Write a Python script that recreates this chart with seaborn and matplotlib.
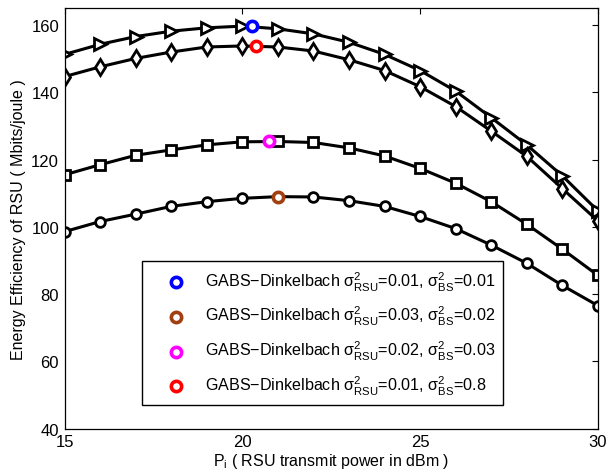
import matplotlib
matplotlib.use("Agg")
import matplotlib.pyplot as plt
import seaborn as sns

# power levels (dBm)
p_dbm = list(range(15, 31))

# energy efficiency curves (Mbits/joule)
ee_tri = [151.3, 154.3, 156.6, 158.2, 159.2, 159.7, 158.9, 157.4, 154.9, 151.3,
          146.5, 140.4, 132.5, 124.4, 115.2, 104.8]
ee_dia = [144.7, 147.6, 150.1, 152.0, 153.5, 153.8, 153.5, 152.3, 149.7, 146.5,
          141.7, 135.8, 128.5, 121.0, 111.4, 101.8]
ee_sq = [115.5, 118.5, 121.3, 122.9, 124.4, 125.3, 125.4, 125.1, 123.5, 121.1,
         117.4, 113.0, 107.5, 100.8, 93.4, 85.6]
ee_circ = [98.6, 101.6, 103.8, 106.1, 107.5, 108.5, 109.0, 108.9, 107.8, 106.1,
           103.1, 99.5, 94.6, 89.2, 82.6, 76.6]

# GABS-Dinkelbach optimum points
opt_x = [20.27, 21.0, 20.76, 20.38]
opt_y = [159.7, 109.0, 125.4, 153.8]
opt_labels = [
    r"GABS$-$Dinkelbach $\sigma^2_{RSU}$=0.01, $\sigma^2_{BS}$=0.01",
    r"GABS$-$Dinkelbach $\sigma^2_{RSU}$=0.03, $\sigma^2_{BS}$=0.02",
    r"GABS$-$Dinkelbach $\sigma^2_{RSU}$=0.02, $\sigma^2_{BS}$=0.03",
    r"GABS$-$Dinkelbach $\sigma^2_{RSU}$=0.01, $\sigma^2_{BS}$=0.8",
]
opt_colors = ["#0000FF", "#A04010", "#FF00FF", "#FF0000"]

sns.set_style("white")
plt.rcParams["font.family"] = ["Liberation Sans", "DejaVu Sans"]
plt.rcParams["mathtext.default"] = "regular"
plt.rcParams["text.color"] = "black"
plt.rcParams["axes.labelcolor"] = "black"

fig = plt.figure(figsize=(6.1, 4.77), dpi=100)
ax = fig.add_axes([0.106, 0.0992, 0.874, 0.8813])

curves = [(ee_tri, ">", 9), (ee_dia, "d", 8), (ee_sq, "s", 6.5), (ee_circ, "o", 7)]
for vals, mk, ms in curves:
    sns.lineplot(x=p_dbm, y=vals, ax=ax, color="black", linewidth=2.2,
                 marker=mk, markersize=ms, markerfacecolor="white",
                 markeredgecolor="black", markeredgewidth=2, legend=False)

for xv, yv, c, lab in zip(opt_x, opt_y, opt_colors, opt_labels):
    sns.scatterplot(x=[xv], y=[yv], ax=ax, marker="o", s=55, facecolor="white",
                    edgecolor=c, linewidth=2.6, label=lab, zorder=5)

ax.set_xlim(15, 30)
ax.set_ylim(40, 165)
ax.set_xticks([15, 20, 25, 30])
ax.set_yticks(range(40, 161, 20))
ax.tick_params(direction="in", length=4, width=0.8, labelsize=12, pad=4,
               top=True, right=True, colors="black")
for s in ax.spines.values():
    s.set_color("black")
    s.set_linewidth(0.9)

ax.set_xlabel(r"P$_i$ ( RSU transmit power in dBm )", fontsize=11.5, labelpad=1)
ax.set_ylabel("Energy Efficiency of RSU ( Mbits/joule )", fontsize=11.5, labelpad=4)

leg = ax.legend(loc="lower left", bbox_to_anchor=(0.1445, 0.056), fontsize=11.6,
                frameon=True, fancybox=False, edgecolor="black", framealpha=1,
                handlelength=3.2, handletextpad=0.2, labelspacing=0.72,
                borderpad=0.5, borderaxespad=0, labelcolor="black")
leg.get_frame().set_linewidth(1.0)

fig.savefig("out.png", dpi=100)
